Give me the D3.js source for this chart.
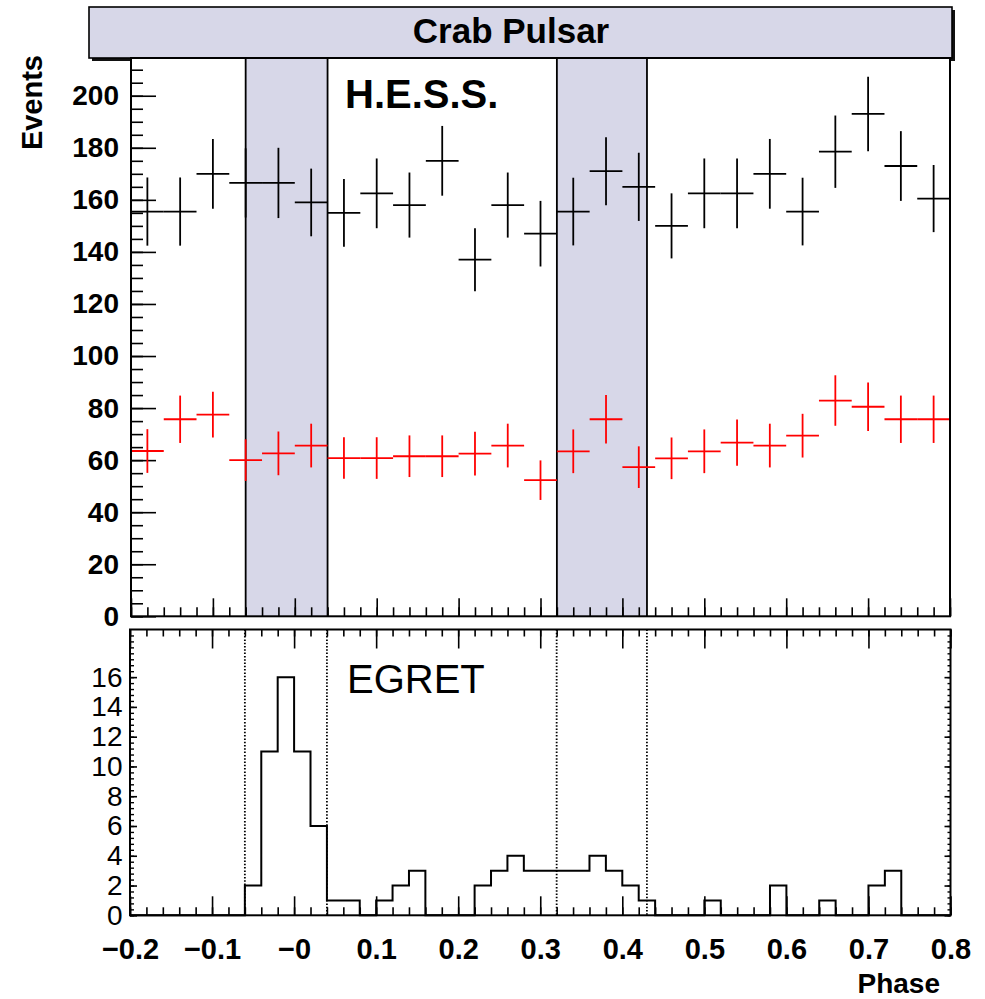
<!DOCTYPE html>
<html>
<head>
<meta charset="utf-8">
<script src="https://cdn.jsdelivr.net/npm/d3@7"></script>
<style>
  body { margin: 0; background: #fff; }
  svg { display: block; }
  text { font-family: "Liberation Sans", Arial, Helvetica, sans-serif; fill: #000; }
</style>
</head>
<body>
<svg id="chart" width="985" height="999"></svg>
<script>
// ---- Data ---------------------------------------------------------------
const titleText = "Crab Pulsar";
const phaseDomain = [-0.2, 0.8];
const phaseTickValues = [-0.2, -0.1, 0, 0.1, 0.2, 0.3, 0.4, 0.5, 0.6, 0.7, 0.8];
const phaseTickLabels = ["\u22120.2", "\u22120.1", "\u22120", "0.1", "0.2", "0.3", "0.4", "0.5", "0.6", "0.7", "0.8"];

// Pulse windows (main pulse and interpulse)
const pulseWindows = [[-0.06, 0.04], [0.32, 0.43]];

// H.E.S.S. phasogram, 25 bins of width 0.04
const hessBinWidth = 0.04;
const hessBinCenters = [-0.18, -0.14, -0.10, -0.06, -0.02, 0.02, 0.06, 0.10, 0.14, 0.18, 0.22, 0.26, 0.30,
                        0.34, 0.38, 0.42, 0.46, 0.50, 0.54, 0.58, 0.62, 0.66, 0.70, 0.74, 0.78];
const hessOn = [155.5, 155.5, 170, 166.5, 166.5, 159, 155, 162.5, 158, 175, 137, 158, 147,
                155.5, 171, 165, 150, 162.5, 162.5, 170, 155.5, 178.5, 193, 173, 160.5];
const hessOnErr = [13.1, 13.1, 13.4, 13.3, 13.5, 13.0, 13.0, 13.4, 12.5, 13.4, 12.1, 12.5, 12.6,
                   13.0, 13.1, 13.1, 12.5, 13.4, 13.4, 13.4, 13.0, 13.9, 14.3, 13.4, 12.9];
const hessOff = [63.5, 75.7, 77.5, 60, 62.6, 65.6, 60.8, 60.8, 61.5, 61.5, 62.5, 65.6, 52.3,
                 63.4, 75.7, 57.3, 60.7, 63.4, 66.7, 65.6, 69.4, 82.9, 80.5, 75.7, 75.7];
const hessOffErr = [8.4, 9.1, 8.8, 8.0, 8.4, 8.4, 8.0, 8.0, 8.0, 8.0, 8.4, 8.4, 7.6,
                    8.4, 9.3, 8.0, 8.0, 8.4, 8.9, 8.4, 8.4, 9.7, 9.3, 9.1, 9.1];
const hessYMax = 214.5;
const hessYTicks = [0, 20, 40, 60, 80, 100, 120, 140, 160, 180, 200];

// EGRET light curve, 50 bins of width 0.02
const egretBinWidth = 0.02;
const egretBinLow = [-0.20, -0.18, -0.16, -0.14, -0.12, -0.10, -0.08, -0.06, -0.04, -0.02,
                      0.00,  0.02,  0.04,  0.06,  0.08,  0.10,  0.12,  0.14,  0.16,  0.18,
                      0.20,  0.22,  0.24,  0.26,  0.28,  0.30,  0.32,  0.34,  0.36,  0.38,
                      0.40,  0.42,  0.44,  0.46,  0.48,  0.50,  0.52,  0.54,  0.56,  0.58,
                      0.60,  0.62,  0.64,  0.66,  0.68,  0.70,  0.72,  0.74,  0.76,  0.78];
const egretCounts = [0, 0, 0, 0, 0, 0, 0, 2, 11, 16,
                     11, 6, 1, 1, 0, 1, 2, 3, 0, 0,
                     0, 2, 3, 4, 3, 3, 3, 3, 4, 3,
                     2, 1, 0, 0, 0, 1, 0, 0, 0, 2,
                     0, 0, 1, 0, 0, 2, 3, 0, 0, 0];
const egretYMax = 19.2;
const egretYTicks = [0, 2, 4, 6, 8, 10, 12, 14, 16];

// ---- Layout -------------------------------------------------------------
const upper = { left: 131, right: 950, top: 58, bottom: 616.3 };
const lower = { left: 130, right: 950.5, top: 629.5, bottom: 915.3 };
const bandFill = "#d7d7e8";

const svg = d3.select("#chart");

const xU = d3.scaleLinear().domain(phaseDomain).range([upper.left, upper.right]);
const yU = d3.scaleLinear().domain([0, hessYMax]).range([upper.bottom, upper.top]);
const xL = d3.scaleLinear().domain(phaseDomain).range([lower.left, lower.right]);
const yL = d3.scaleLinear().domain([0, egretYMax]).range([lower.bottom, lower.top]);

const minorPhase = d3.range(-0.2, 0.8001, 0.02).map(v => +v.toFixed(2));

function tickAxis(axisFn, scale, values, size, g, width) {
  const a = axisFn(scale).tickValues(values).tickSize(size).tickFormat("");
  g.call(a);
  g.select(".domain").remove();
  g.selectAll(".tick line").attr("stroke", "#000").attr("stroke-width", width || 1.6);
  return g;
}

// ---- Title box ----------------------------------------------------------
const tb = { x: 89, y: 7, w: 863, h: 51 };
svg.append("rect").attr("x", tb.x + 3).attr("y", tb.y + 3).attr("width", tb.w).attr("height", tb.h)
  .attr("fill", "#111");
svg.append("rect").attr("x", tb.x).attr("y", tb.y).attr("width", tb.w).attr("height", tb.h)
  .attr("fill", bandFill).attr("stroke", "#000").attr("stroke-width", 1.6);
svg.append("text").attr("x", 511).attr("y", 43).attr("text-anchor", "middle")
  .attr("font-size", 35).attr("font-weight", "bold").text(titleText);

// ---- Upper panel (H.E.S.S.) ---------------------------------------------
const gU = svg.append("g");
gU.append("rect").attr("x", upper.left).attr("y", upper.top)
  .attr("width", upper.right - upper.left).attr("height", upper.bottom - upper.top).attr("fill", "#fff");

pulseWindows.forEach(([a, b]) => {
  gU.append("rect").attr("x", xU(a)).attr("y", upper.top).attr("width", xU(b) - xU(a))
    .attr("height", upper.bottom - upper.top).attr("fill", bandFill);
  [a, b].forEach(v => gU.append("line").attr("x1", xU(v)).attr("x2", xU(v))
    .attr("y1", upper.top).attr("y2", upper.bottom).attr("stroke", "#000").attr("stroke-width", 1.8));
});

// y axis: major and minor ticks pointing inward
tickAxis(d3.axisLeft, yU, d3.range(0, 211, 5), -12, gU.append("g").attr("transform", `translate(${upper.left},0)`));
const yAxU = gU.append("g").attr("transform", `translate(${upper.left},0)`);
yAxU.call(d3.axisLeft(yU).tickValues(hessYTicks).tickSize(-25).tickPadding(12).tickFormat(d3.format("d")));
yAxU.select(".domain").remove();
yAxU.selectAll(".tick line").attr("stroke", "#000").attr("stroke-width", 1.6);
yAxU.selectAll(".tick text").attr("font-size", 28).attr("font-weight", "bold")
  .attr("font-family", '"Liberation Sans", Arial, sans-serif').attr("fill", "#000");

// x ticks along the bottom edge
tickAxis(d3.axisBottom, xU, minorPhase, -9, gU.append("g").attr("transform", `translate(0,${upper.bottom})`));
tickAxis(d3.axisBottom, xU, phaseTickValues, -18, gU.append("g").attr("transform", `translate(0,${upper.bottom})`));

// error-bar crosses
function crosses(values, errs, color) {
  const g = gU.append("g").attr("stroke", color).attr("stroke-width", 1.8);
  hessBinCenters.forEach((c, i) => {
    g.append("line").attr("x1", xU(c - hessBinWidth / 2)).attr("x2", xU(c + hessBinWidth / 2))
      .attr("y1", yU(values[i])).attr("y2", yU(values[i]));
    g.append("line").attr("x1", xU(c)).attr("x2", xU(c))
      .attr("y1", yU(values[i] - errs[i])).attr("y2", yU(values[i] + errs[i]));
  });
}
crosses(hessOff, hessOffErr, "#ff0000");
crosses(hessOn, hessOnErr, "#000");

gU.append("rect").attr("x", upper.left).attr("y", upper.top)
  .attr("width", upper.right - upper.left).attr("height", upper.bottom - upper.top)
  .attr("fill", "none").attr("stroke", "#000").attr("stroke-width", 2);

gU.append("text").attr("x", 345).attr("y", 108).attr("font-size", 40).attr("font-weight", "bold").text("H.E.S.S.");

svg.append("text").attr("transform", "translate(42,55) rotate(-90)").attr("text-anchor", "end")
  .attr("font-size", 29).attr("font-weight", "bold").text("Events");

// ---- Lower panel (EGRET) ------------------------------------------------
const gL = svg.append("g");

// x ticks on top and bottom edges
tickAxis(d3.axisTop, xL, minorPhase, -7, gL.append("g").attr("transform", `translate(0,${lower.top})`));
tickAxis(d3.axisTop, xL, phaseTickValues, -19, gL.append("g").attr("transform", `translate(0,${lower.top})`));
tickAxis(d3.axisBottom, xL, minorPhase, -8, gL.append("g").attr("transform", `translate(0,${lower.bottom})`));
const xAxL = gL.append("g").attr("transform", `translate(0,${lower.bottom})`);
xAxL.call(d3.axisBottom(xL).tickValues(phaseTickValues).tickSize(-19).tickPadding(23)
  .tickFormat((d, i) => phaseTickLabels[i]));
xAxL.select(".domain").remove();
xAxL.selectAll(".tick line").attr("stroke", "#000").attr("stroke-width", 1.6);
xAxL.selectAll(".tick text").attr("font-size", 29).attr("font-weight", "bold")
  .attr("font-family", '"Liberation Sans", Arial, sans-serif').attr("fill", "#000");

// y ticks on left and right edges
const minorEgret = d3.range(0, 19.01, 0.4).map(v => +v.toFixed(1));
tickAxis(d3.axisLeft, yL, minorEgret, -4, gL.append("g").attr("transform", `translate(${lower.left},0)`), 1.4);
const yAxL = gL.append("g").attr("transform", `translate(${lower.left},0)`);
yAxL.call(d3.axisLeft(yL).tickValues(egretYTicks).tickSize(-7).tickPadding(7.5).tickFormat(d3.format("d")));
yAxL.select(".domain").remove();
yAxL.selectAll(".tick line").attr("stroke", "#000").attr("stroke-width", 1.6);
yAxL.selectAll(".tick text").attr("font-size", 28)
  .attr("font-family", '"Liberation Sans", Arial, sans-serif').attr("fill", "#000");
tickAxis(d3.axisRight, yL, minorEgret, -3, gL.append("g").attr("transform", `translate(${lower.right},0)`), 1.4);
tickAxis(d3.axisRight, yL, egretYTicks, -6, gL.append("g").attr("transform", `translate(${lower.right},0)`), 1.6);

// pulse window boundaries
pulseWindows.flat().forEach(v => gL.append("line").attr("x1", xL(v)).attr("x2", xL(v))
  .attr("y1", lower.top).attr("y2", lower.bottom).attr("stroke", "#000")
  .attr("stroke-width", 1.8).attr("stroke-dasharray", "1.5,1.8"));

// step histogram
const stepPts = [[egretBinLow[0], 0]];
egretBinLow.forEach((lo, i) => {
  stepPts.push([lo, egretCounts[i]]);
  stepPts.push([lo + egretBinWidth, egretCounts[i]]);
});
stepPts.push([egretBinLow[egretBinLow.length - 1] + egretBinWidth, 0]);
gL.append("path").attr("d", d3.line().x(d => xL(d[0])).y(d => yL(d[1]))(stepPts))
  .attr("fill", "none").attr("stroke", "#000").attr("stroke-width", 2);

gL.append("rect").attr("x", lower.left).attr("y", lower.top)
  .attr("width", lower.right - lower.left).attr("height", lower.bottom - lower.top)
  .attr("fill", "none").attr("stroke", "#000").attr("stroke-width", 2);

gL.append("text").attr("x", 347).attr("y", 693).attr("font-size", 40).text("EGRET");

svg.append("text").attr("x", 940).attr("y", 993).attr("text-anchor", "end")
  .attr("font-size", 28).attr("font-weight", "bold").text("Phase");
</script>
</body>
</html>
